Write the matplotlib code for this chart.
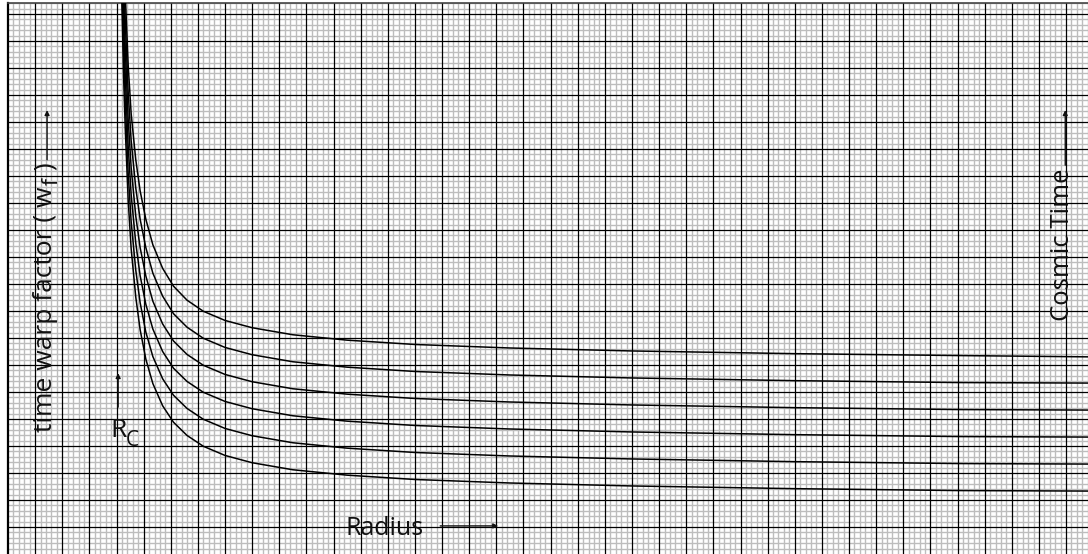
import matplotlib
matplotlib.use("Agg")
import matplotlib.pyplot as plt
import numpy as np
from matplotlib.ticker import MultipleLocator

plt.rcParams['font.family'] = ['Open Sans', 'DejaVu Sans']

# radius in grid units (one heavy square = 1)
radius = [4.12, 4.16, 4.2, 4.26, 4.32, 4.43, 4.54, 4.71, 4.87, 5.08, 5.34, 5.7, 6.1,
          6.6, 7.2, 8, 9, 10.5, 12.5, 15, 18.5, 23, 29, 35, 40]

# time warp factor curves (top curve first)
wf_1 = [31.8, 28.05, 25.29, 22.72, 20.8, 18.1, 16.3, 14.6, 13.45, 12.4, 11.45, 10.58,
        9.92, 9.4, 8.99, 8.65, 8.38, 8.12, 7.92, 7.76, 7.63, 7.52, 7.42, 7.35, 7.3]
wf_2 = [30.8, 27.05, 24.29, 21.72, 19.8, 17.1, 15.3, 13.55, 12.4, 11.35, 10.4, 9.55,
        8.9, 8.4, 7.99, 7.65, 7.38, 7.12, 6.92, 6.76, 6.63, 6.52, 6.42, 6.35, 6.33]
wf_3 = [29.8, 26.05, 23.29, 20.72, 18.8, 16.1, 14.3, 12.51, 11.35, 10.3, 9.36, 8.52,
        7.89, 7.39, 6.99, 6.65, 6.38, 6.12, 5.92, 5.76, 5.63, 5.52, 5.42, 5.35, 5.33]
wf_4 = [28.8, 25.05, 22.29, 19.72, 17.8, 15.1, 13.3, 11.51, 10.31, 9.25, 8.33, 7.5,
        6.88, 6.39, 5.99, 5.65, 5.38, 5.12, 4.92, 4.76, 4.63, 4.52, 4.42, 4.35, 4.33]
wf_5 = [27.8, 24.05, 21.29, 18.72, 16.8, 14.1, 12.3, 10.51, 9.31, 8.22, 7.31, 6.49,
        5.88, 5.39, 4.99, 4.65, 4.38, 4.12, 3.92, 3.76, 3.63, 3.52, 3.42, 3.35, 3.33]
wf_6 = [26.8, 23.05, 20.29, 17.72, 15.8, 13.1, 11.3, 9.51, 8.31, 7.22, 6.31, 5.49,
        4.88, 4.39, 3.99, 3.65, 3.38, 3.12, 2.92, 2.76, 2.63, 2.52, 2.42, 2.35, 2.33]

W, H = 1088, 554
fig = plt.figure(figsize=(W / 100, H / 100), dpi=100)
ax = fig.add_axes([8 / W, 0, 1080 / W, 551 / H])

for wf in [wf_1, wf_2, wf_3, wf_4, wf_5, wf_6]:
    ax.plot(radius, wf, color='black', lw=1.1, zorder=4)

# graph paper: light minor squares, heavy lines on top of them
xmax, ymax = 1080 / 27.13, 551 / 27.0
ax.set_xlim(0, xmax)
ax.set_ylim(0, ymax)
ax.set_axisbelow(True)
ax.xaxis.set_major_locator(MultipleLocator(1))
ax.yaxis.set_major_locator(MultipleLocator(1))
ax.xaxis.set_minor_locator(MultipleLocator(0.2))
ax.yaxis.set_minor_locator(MultipleLocator(0.2))
ax.grid(which='minor', color='#bdbdbd', lw=1.0)
for v in np.arange(1, xmax, 1.0):
    ax.axvline(v, color='black', lw=0.9, zorder=2)
for h in np.arange(1, ymax, 1.0):
    ax.axhline(h, color='black', lw=0.9, zorder=2)
ax.tick_params(which='both', length=0, labelleft=False, labelbottom=False)
ax.spines['right'].set_visible(False)
ax.spines['bottom'].set_visible(False)
ax.spines['left'].set_linewidth(1.6)
ax.spines['top'].set_color('#444444')
ax.spines['top'].set_linewidth(1.2)

txt = dict(color='#111111', zorder=5)
arr = dict(arrowstyle='-|>', color='#111111', lw=1.0, mutation_scale=7,
           shrinkA=0, shrinkB=0)
inv = ax.transData.inverted()

# rotated y label, subscript drawn as its own piece
t1 = ax.text(1.63, 4.52, 'time warp factor ( w', rotation=90, rotation_mode='anchor',
             ha='left', va='baseline', fontsize=19, **txt)
fig.canvas.draw()
bb = t1.get_window_extent()
x0, y0 = ax.transData.transform((1.63, 4.52))
sx, sy = inv.transform((x0 + 6, bb.y1 + 1))
t2 = ax.text(sx, sy, 'f', rotation=90, rotation_mode='anchor',
             ha='left', va='baseline', fontsize=15, **txt)
fig.canvas.draw()
bb2 = t2.get_window_extent()
ex, ey = inv.transform((x0, bb2.y1 + 1))
ax.text(ex, ey, ' )', rotation=90, rotation_mode='anchor',
        ha='left', va='baseline', fontsize=19, **txt)
ax.annotate('', xy=(1.44, 16.44), xytext=(1.44, 14.6), arrowprops=arr, zorder=5)

# R_C marker
tr = ax.text(3.76, 4.33, 'R', ha='left', va='baseline', fontsize=19, **txt)
fig.canvas.draw()
bbr = tr.get_window_extent()
cx, cy = inv.transform((bbr.x1 - 1, ax.transData.transform((0, 4.33))[1] - 9))
ax.text(cx, cy, 'C', ha='left', va='baseline', fontsize=15, **txt)
ax.annotate('', xy=(4.06, 6.70), xytext=(4.06, 5.44), arrowprops=arr, zorder=5)

ax.text(12.43, 0.96, 'Radius', ha='left', va='center', fontsize=18, **txt)
ax.annotate('', xy=(18.07, 1.04), xytext=(15.93, 1.04), arrowprops=arr, zorder=5)

ax.text(38.86, 11.44, 'Cosmic Time', rotation=90, ha='center', va='center',
        fontsize=18.5, **txt)
ax.annotate('', xy=(38.97, 16.44), xytext=(38.97, 14.4), arrowprops=arr, zorder=5)

fig.savefig('out.png', dpi=100)
